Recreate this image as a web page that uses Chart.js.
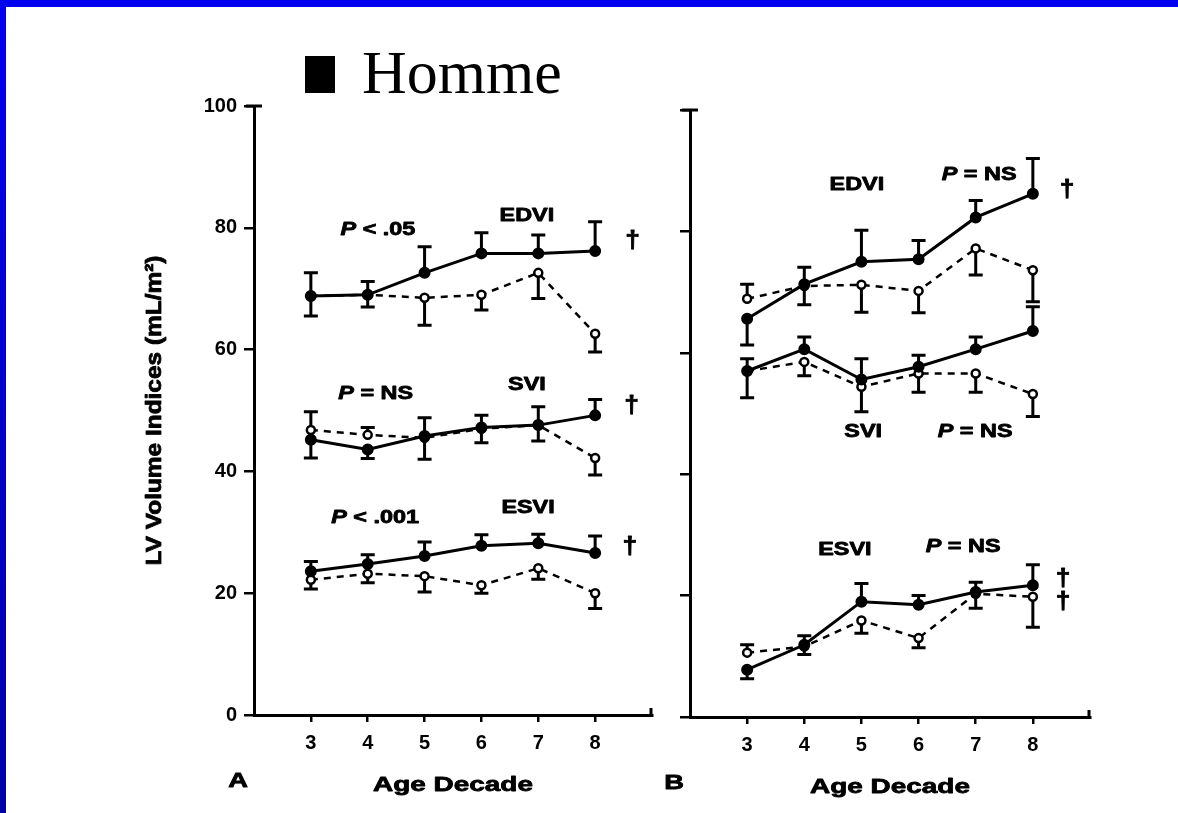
<!DOCTYPE html>
<html>
<head>
<meta charset="utf-8">
<script src="https://cdn.jsdelivr.net/npm/chart.js@4.4.1/dist/chart.umd.min.js"></script>
<style>
  html, body { margin: 0; padding: 0; background: #fff; }
  #page { position: relative; width: 1178px; height: 813px; overflow: hidden; background: #fff; }
  #topbar { position: absolute; left: 0; top: 0; width: 1178px; height: 7px; background: #0000f0; }
  #leftbar { position: absolute; left: 0; top: 0; width: 6px; height: 813px; background: linear-gradient(#0000f0, #0000a8); }
  #title { position: absolute; left: 305px; top: 41px; font-family: "Liberation Serif", "Times New Roman", serif;
           font-size: 62px; line-height: 62px; white-space: nowrap; color: #000; }
  #title .sq { display: inline-block; width: 30px; height: 37px; background: #000; margin-right: 27px; vertical-align: baseline; }
  canvas { position: absolute; left: 0; top: 0; }
</style>
</head>
<body>
<div id="page">
  <div id="topbar"></div>
  <div id="leftbar"></div>
  <div id="title"><span class="sq"></span>Homme</div>
  <canvas id="chartA" width="1178" height="813"></canvas>
  <canvas id="chartB" width="1178" height="813"></canvas>
</div>
<script>
// age decades on the x axis
const decades = [3, 4, 5, 6, 7, 8];
const yTicks = [0, 20, 40, 60, 80, 100];

// panel A  (errors: + goes up, - goes down)
const aEdviSolid  = [68.8, 69.0, 72.6, 75.8, 75.8, 76.2];
const aEdviSolidErr  = [3.8, 2.2, 4.3, 3.4, 3.0, 4.8];
const aEdviDashed = [68.8, 69.0, 68.5, 69.0, 72.6, 62.6];
const aEdviDashedErr = [-3.3, -2.0, -4.5, -2.5, -4.2, -3.0];
const aSviSolid   = [45.2, 43.6, 45.8, 47.2, 47.6, 49.2];
const aSviSolidErr   = [-3.0, -1.5, 3.0, 2.0, 3.0, 2.6];
const aSviDashed  = [46.8, 46.0, 45.5, 47.0, 47.6, 42.2];
const aSviDashedErr  = [3.0, 1.2, -3.5, -2.3, -2.6, -2.8];
const aEsviSolid  = [23.6, 24.8, 26.1, 27.8, 28.2, 26.6];
const aEsviSolidErr  = [1.6, 1.5, 2.3, 1.8, 1.5, 2.8];
const aEsviDashed = [22.2, 23.2, 22.8, 21.3, 24.1, 20.0];
const aEsviDashedErr = [-1.5, -1.5, -2.6, -1.3, -1.8, -2.5];

// panel B
const bEdviSolid  = [65.6, 71.3, 75.0, 75.4, 82.3, 86.2];
const bEdviSolidErr  = [-4.3, 2.8, 5.2, 3.1, 2.8, 5.8];
const bEdviDashed = [68.9, 71.0, 71.2, 70.2, 77.2, 73.6];
const bEdviDashedErr = [2.4, -3.1, -4.5, -3.6, -4.4, -5.2];
const bSviSolid   = [57.0, 60.6, 55.6, 57.7, 60.6, 63.6];
const bSviSolidErr   = [-4.4, 2.0, 3.4, 1.9, 2.0, 4.0];
const bSviDashed  = [57.0, 58.5, 54.4, 56.6, 56.6, 53.2];
const bSviDashedErr  = [2.0, -2.3, -4.1, -3.1, -3.1, -3.7];
const bEsviSolid  = [7.8, 11.9, 19.0, 18.5, 20.6, 21.7];
const bEsviSolidErr  = [-1.5, 1.5, 3.0, 1.5, 1.6, 3.4];
const bEsviDashed = [10.6, 11.6, 15.9, 13.0, 20.3, 19.8];
const bEsviDashedErr = [1.3, -1.3, -2.1, -1.6, -2.4, -5.0];

// text notes, placed in data units
const aNotes = [
  ['P < .05', 4.18, 79.6], ['EDVI', 6.80, 81.9], ['†', 8.66, 77.7],
  ['P = NS', 4.14, 52.7], ['SVI', 6.80, 54.2], ['†', 8.64, 50.7],
  ['P < .001', 4.13, 32.3], ['ESVI', 6.82, 34.0], ['†', 8.61, 27.6]
];
const bNotes = [
  ['EDVI', 4.92, 87.6], ['P = NS', 7.06, 89.3], ['†', 8.60, 86.8],
  ['SVI', 5.03, 47.0], ['P = NS', 6.99, 47.0],
  ['ESVI', 4.71, 27.5], ['P = NS', 6.78, 28.0], ['†', 8.53, 22.6], ['†', 8.53, 18.9]
];

const FONT = '"Liberation Sans", Arial, sans-serif';

function series(vals, errs, dashed) {
  return {
    data: decades.map((d, i) => ({ x: d, y: vals[i] })),
    errs: errs,
    borderColor: '#000',
    borderWidth: dashed ? 2.5 : 3,
    borderDash: dashed ? [7, 6] : [],
    pointRadius: dashed ? 4 : 5,
    pointBackgroundColor: dashed ? '#fff' : '#000',
    pointBorderColor: '#000',
    pointBorderWidth: dashed ? 2.5 : 2,
    tension: 0,
    fill: false
  };
}

// text with a horizontal stretch and a thin outline, the scan looks heavy
function stretchText(ctx, parts, cx, cy, sx) {
  let w = 0;
  parts.forEach(([t, f]) => { ctx.font = f; w += ctx.measureText(t).width; });
  ctx.save();
  ctx.translate(cx, cy);
  ctx.scale(sx, 1);
  ctx.textBaseline = 'middle';
  ctx.textAlign = 'left';
  ctx.lineWidth = 0.8;
  ctx.lineJoin = 'round';
  let x = -w / 2;
  parts.forEach(([t, f]) => {
    ctx.font = f;
    ctx.fillText(t, x, 0);
    ctx.strokeText(t, x, 0);
    x += ctx.measureText(t).width;
  });
  ctx.restore();
}

const errorBars = {
  id: 'errorBars',
  beforeDatasetsDraw(chart) {
    const { ctx, scales: { x, y } } = chart;
    ctx.save();
    ctx.strokeStyle = '#000';
    ctx.lineWidth = 3;
    chart.data.datasets.forEach(ds => {
      ds.data.forEach((p, i) => {
        const px = x.getPixelForValue(p.x);
        const py0 = y.getPixelForValue(p.y);
        const py1 = y.getPixelForValue(p.y + ds.errs[i]);
        ctx.beginPath();
        ctx.moveTo(px, py0); ctx.lineTo(px, py1);
        ctx.moveTo(px - 7, py1); ctx.lineTo(px + 7, py1);
        ctx.stroke();
      });
    });
    ctx.restore();
  }
};

const panelText = {
  id: 'panelText',
  afterDraw(chart, args, opts) {
    const { ctx, chartArea, scales: { x, y } } = chart;
    ctx.save();
    ctx.fillStyle = '#000';
    ctx.strokeStyle = '#000';
    // little cap on top of y axis, hook at end of x axis
    ctx.lineWidth = 3;
    ctx.beginPath();
    ctx.moveTo(chartArea.left - 8, chartArea.top); ctx.lineTo(chartArea.left + 8, chartArea.top);
    ctx.moveTo(chartArea.right - 1, chartArea.bottom + 1); ctx.lineTo(chartArea.right - 1, chartArea.bottom - 7);
    ctx.stroke();

    const bold = 'bold 18px ' + FONT;
    const ital = 'italic bold 18px ' + FONT;
    opts.notes.forEach(([t, vx, vy]) => {
      const px = x.getPixelForValue(vx), py = y.getPixelForValue(vy);
      if (t === '†') {
        stretchText(ctx, [[t, 'bold 24px ' + FONT]], px, py, 1.1);
      } else if (t.startsWith('P ')) {
        stretchText(ctx, [['P', ital], [t.slice(1), bold]], px, py, 1.3);
      } else {
        stretchText(ctx, [[t, bold]], px, py, 1.3);
      }
    });
    const big = 'bold 21px ' + FONT;
    stretchText(ctx, [['Age Decade', big]], x.getPixelForValue(5.5), chartArea.bottom + 70, 1.33);
    stretchText(ctx, [[opts.letter, big]], chartArea.left - 16, chartArea.bottom + 66, 1.3);
    if (opts.yTitle) {
      ctx.save();
      ctx.translate(chartArea.left - 99, (chartArea.top + chartArea.bottom) / 2);
      ctx.rotate(-Math.PI / 2);
      stretchText(ctx, [[opts.yTitle, 'bold 22px ' + FONT]], 0, 0, 1.11);
      ctx.restore();
    }
    ctx.restore();
  }
};

function makeChart(id, datasets, pad, notes, letter, yTitle, showY) {
  return new Chart(document.getElementById(id), {
    type: 'line',
    data: { datasets: datasets },
    options: {
      responsive: false,
      animation: false,
      events: [],
      layout: { padding: pad },
      plugins: {
        legend: { display: false },
        tooltip: { enabled: false },
        panelText: { notes: notes, letter: letter, yTitle: yTitle }
      },
      scales: {
        x: {
          type: 'linear', min: 2, max: 9,
          afterBuildTicks: ax => { ax.ticks = decades.map(v => ({ value: v })); },
          afterFit: s => { s.height = 40; },
          border: { display: true, color: '#000', width: 3 },
          grid: { drawOnChartArea: false, drawTicks: true, tickLength: 7, lineWidth: 2.5, color: '#000' },
          ticks: { color: '#000', font: { family: FONT, weight: 'bold', size: 20 }, padding: 9, maxRotation: 0 }
        },
        y: {
          type: 'linear', min: 0, max: 100,
          afterBuildTicks: ax => { ax.ticks = yTicks.map(v => ({ value: v })); },
          afterFit: s => { s.width = 60; },
          border: { display: true, color: '#000', width: 3 },
          grid: { drawOnChartArea: false, drawTicks: true, tickLength: 10, lineWidth: 2.5, color: '#000' },
          ticks: { color: '#000', font: { family: FONT, weight: 'bold', size: 20 }, padding: 7,
                   callback: v => showY ? v : '' }
        }
      }
    },
    plugins: [errorBars, panelText]
  });
}

makeChart('chartA', [
  series(aEdviSolid, aEdviSolidErr, false), series(aEdviDashed, aEdviDashedErr, true),
  series(aSviSolid, aSviSolidErr, false), series(aSviDashed, aSviDashedErr, true),
  series(aEsviSolid, aEsviSolidErr, false), series(aEsviDashed, aEsviDashedErr, true)
], { left: 194, right: 526, top: 106, bottom: 58 }, aNotes, 'A', 'LV Volume Indices (mL/m²)', true);

makeChart('chartB', [
  series(bEdviSolid, bEdviSolidErr, false), series(bEdviDashed, bEdviDashedErr, true),
  series(bSviSolid, bSviSolidErr, false), series(bSviDashed, bSviDashedErr, true),
  series(bEsviSolid, bEsviSolidErr, false), series(bEsviDashed, bEsviDashedErr, true)
], { left: 630, right: 88, top: 110, bottom: 56 }, bNotes, 'B', null, false);
</script>
</body>
</html>
